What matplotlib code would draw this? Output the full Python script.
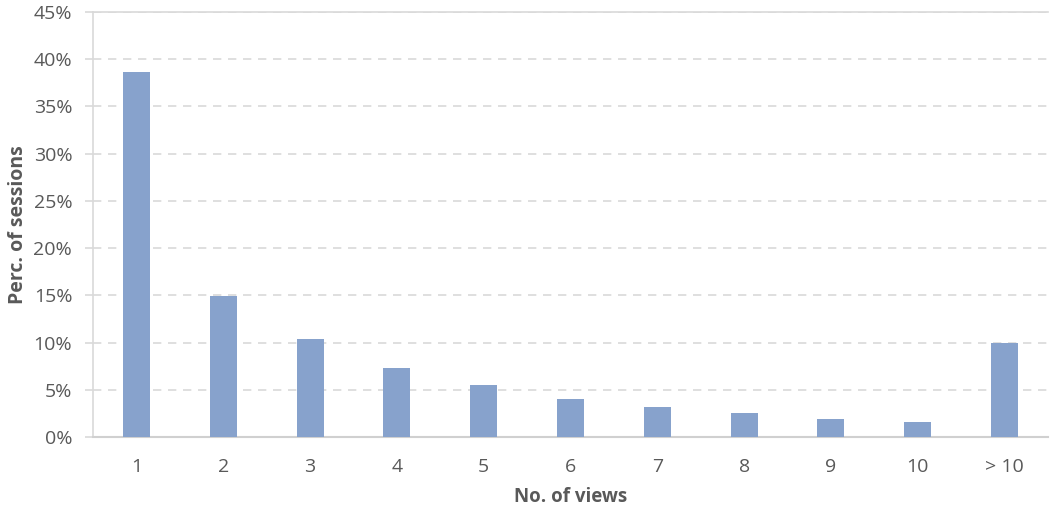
import numpy as np
import matplotlib.pyplot as plt
from matplotlib.ticker import PercentFormatter

plt.rcParams['font.family'] = ['Open Sans', 'DejaVu Sans']

# 数据：每个会话浏览次数的占比（%）
views = ['1', '2', '3', '4', '5', '6', '7', '8', '9', '10', '> 10']
perc = [38.6, 14.9, 10.35, 7.35, 5.5, 4.0, 3.2, 2.5, 1.9, 1.6, 10.0]

BAR_COLOR = '#87A2CC'
TEXT_COLOR = '#595959'
GRID_COLOR = '#D9D9D9'

fig = plt.figure(figsize=(10.5, 5.11), dpi=100)
ax = fig.add_axes([0.0886, 0.1448, 0.9094, 0.8317])

x = np.arange(len(views))
ax.bar(x, perc, width=0.31, color=BAR_COLOR, zorder=3)

ax.set_xlim(-0.5, len(views) - 0.5)
ax.set_ylim(0, 45)
ax.set_yticks(np.arange(0, 46, 5))
ax.yaxis.set_major_formatter(PercentFormatter(decimals=0))
ax.set_xticks(x)
ax.set_xticklabels(views)

# 网格线
ax.grid(axis='y', color=GRID_COLOR, linestyle=(0, (5, 4)), linewidth=1.2, zorder=0)
ax.set_axisbelow(True)

ax.spines['right'].set_visible(False)
ax.spines['top'].set_color(GRID_COLOR)
ax.spines['top'].set_linewidth(1.2)
ax.spines['left'].set_color(GRID_COLOR)
ax.spines['left'].set_linewidth(1.2)
ax.spines['bottom'].set_color('#D0D0D0')
ax.spines['bottom'].set_linewidth(1.5)

ax.tick_params(axis='y', length=6, color=GRID_COLOR, width=1.2, pad=9,
               labelsize=14, labelcolor=TEXT_COLOR)
ax.tick_params(axis='x', length=0, pad=15, labelsize=14, labelcolor=TEXT_COLOR)

ax.set_xlabel('No. of views', fontsize=13.5, fontweight='bold', color=TEXT_COLOR, labelpad=8)
ax.set_ylabel('Perc. of sessions', fontsize=14, fontweight='bold', color=TEXT_COLOR, labelpad=4)

fig.savefig('out.png', dpi=100)
